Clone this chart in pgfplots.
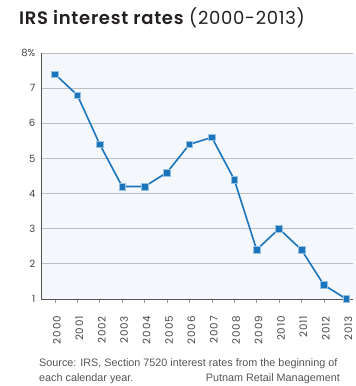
\documentclass[border=0pt]{standalone}
\usepackage{pgfplots}
\pgfplotsset{compat=1.18}
\usepackage{fontspec}
\setmainfont{Poppins}
\newfontfamily\titmed{Poppins}[UprightFont=* SemiBold]
\newfontfamily\srcfont{Liberation Sans}
\newfontfamily\yearfont{Poppins}[LetterSpace=8]
\definecolor{linec}{HTML}{1B75BC}
\definecolor{bgc}{HTML}{F4F8FC}
\definecolor{gridc}{HTML}{BDBDBD}
\definecolor{axc}{HTML}{555555}
\definecolor{txt}{HTML}{444444}
\definecolor{titc}{HTML}{231F20}
\begin{document}
\begin{tikzpicture}
\useasboundingbox (-41.5pt,-87pt) rectangle (314.5pt,299pt);
\fill[bgc] (0,0) rectangle (314.5pt,246pt);
\begin{axis}[at={(0,0)}, anchor=south west, scale only axis,
  width=311.5pt, height=246pt,
  xmin=1999.4, xmax=2013.3, ymin=1, ymax=8,
  axis x line*=bottom, axis y line*=left,
  axis line style={axc, line width=1pt, -},
  xtick={2000,2001,2002,2003,2004,2005,2006,2007,2008,2009,2010,2011,2012,2013},
  xticklabels={2000,2001,2002,2003,2004,2005,2006,2007,2008,2009,2010,2011,2012,2013},
  ytick={1,2,3,4,5,6,7,8},
  yticklabels={1,2,3,4,5,6,7,8\%},
  ymajorgrids, major grid style={gridc, line width=0.8pt},
  xtick align=outside, x tick style={gridc!80!black, line width=0.6pt},
  major tick length=4pt,
  y tick style={draw=none},
  tick label style={font=\fontsize{10}{12}\selectfont, text=txt},
  yticklabel style={anchor=east, inner sep=0pt, xshift=-6pt},
  xticklabel style={font=\yearfont\fontsize{10.3}{12}\selectfont, inner sep=0pt, xshift=2pt, yshift=-13pt, rotate=90, anchor=east},
  clip=false, axis on top=false,
]
\addplot[linec, line width=1.6pt, mark=square*, mark size=3.3pt,
  mark options={fill=linec, draw=linec!45, line width=0.5pt}]
coordinates {(2000,7.4) (2001,6.8) (2002,5.4) (2003,4.2) (2004,4.2) (2005,4.6) (2006,5.4)
 (2007,5.6) (2008,4.4) (2009,2.4) (2010,3.0) (2011,2.4) (2012,1.4) (2013,1.0)};
\end{axis}
\node[anchor=base west, inner sep=0pt, text=titc] at (-22.5pt,274pt)
  {\fontsize{18}{20}\selectfont\addfontfeature{LetterSpace=4}{\titmed\addfontfeature{LetterSpace=4}IRS interest rates} (2000-2013)};
\node[anchor=base west, inner sep=0pt, text=axc] at (-2.5pt,-67pt)
  {\srcfont\fontsize{10.8}{12}\selectfont Source: IRS, Section 7520 interest rates from the beginning of};
\node[anchor=base west, inner sep=0pt, text=axc] at (-2.5pt,-82pt)
  {\srcfont\fontsize{10.8}{12}\selectfont each calendar year.};
\node[anchor=base east, inner sep=0pt, text=axc] at (298.5pt,-82pt)
  {\srcfont\fontsize{10.8}{12}\selectfont Putnam Retail Management};
\end{tikzpicture}
\end{document}
